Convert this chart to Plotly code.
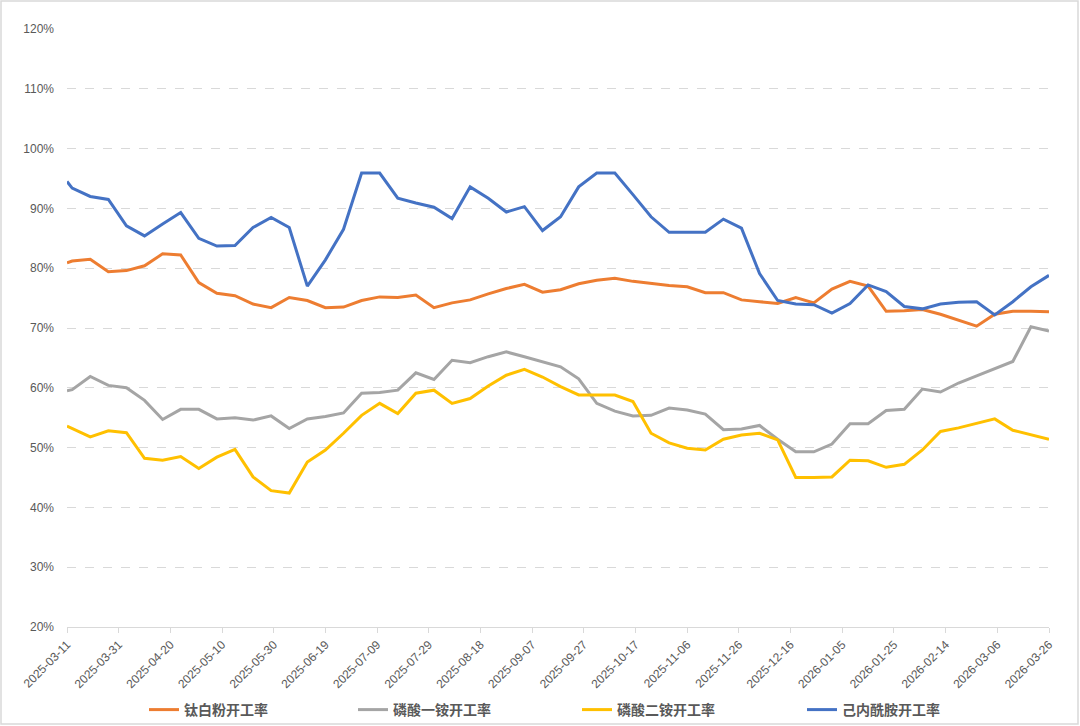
import plotly.graph_objects as go

dates = [
    "2025-03-11", "2025-03-13", "2025-03-20", "2025-03-27",
    "2025-04-03", "2025-04-10", "2025-04-17", "2025-04-24",
    "2025-05-01", "2025-05-08", "2025-05-15", "2025-05-22", "2025-05-29",
    "2025-06-05", "2025-06-12", "2025-06-19", "2025-06-26",
    "2025-07-03", "2025-07-10", "2025-07-17", "2025-07-24", "2025-07-31",
    "2025-08-07", "2025-08-14", "2025-08-21", "2025-08-28",
    "2025-09-04", "2025-09-11", "2025-09-18", "2025-09-25",
    "2025-10-02", "2025-10-09", "2025-10-16", "2025-10-23", "2025-10-30",
    "2025-11-06", "2025-11-13", "2025-11-20", "2025-11-27",
    "2025-12-04", "2025-12-11", "2025-12-18", "2025-12-25",
    "2026-01-01", "2026-01-08", "2026-01-15", "2026-01-22", "2026-01-29",
    "2026-02-05", "2026-02-12", "2026-02-19", "2026-02-26",
    "2026-03-05", "2026-03-12", "2026-03-19", "2026-03-26",
]

titanium = [
    80.9, 81.2, 81.5, 79.4, 79.6, 80.4, 82.4, 82.2, 77.6, 75.8, 75.4, 74.0, 73.4,
    75.1, 74.6, 73.4, 73.5, 74.6, 75.2, 75.1, 75.5, 73.4, 74.2, 74.7, 75.7, 76.6,
    77.3, 76.0, 76.4, 77.4, 78.0, 78.3, 77.8, 77.4, 77.1, 76.9, 75.9, 75.9, 74.7,
    74.4, 74.1, 75.1, 74.2, 76.5, 77.8, 77.0, 72.8, 72.9, 73.1, 72.3, 71.3, 70.3,
    72.3, 72.8, 72.8, 72.7,
]

map_rate = [
    59.5, 59.7, 61.9, 60.4, 60.0, 57.9, 54.7, 56.4, 56.4, 54.8, 55.0, 54.6, 55.3,
    53.2, 54.8, 55.2, 55.8, 59.1, 59.2, 59.6, 62.5, 61.4, 64.6, 64.2, 65.2, 66.0,
    65.2, 64.4, 63.5, 61.5, 57.4, 56.1, 55.3, 55.4, 56.6, 56.3, 55.6, 53.0, 53.1,
    53.7, 51.4, 49.3, 49.3, 50.6, 54.0, 54.0, 56.2, 56.4, 59.8, 59.3, 60.8, 62.0,
    63.2, 64.4, 70.2, 69.5,
]

dap_rate = [
    53.6, 53.2, 51.8, 52.8, 52.5, 48.2, 47.9, 48.5, 46.5, 48.4, 49.7, 45.1, 42.8,
    42.4, 47.6, 49.6, 52.4, 55.4, 57.4, 55.7, 59.1, 59.6, 57.4, 58.2, 60.3, 62.1,
    63.1, 61.8, 60.2, 58.8, 58.8, 58.8, 57.7, 52.4, 50.8, 49.9, 49.6, 51.4, 52.1,
    52.4, 51.3, 45.0, 45.0, 45.1, 47.9, 47.8, 46.7, 47.2, 49.6, 52.7, 53.3, 54.0,
    54.8, 52.9, 52.1, 51.4,
]

caprolactam = [
    94.5, 93.4, 92.0, 91.5, 87.1, 85.4, 87.4, 89.3, 85.0, 83.7, 83.8, 86.8, 88.5,
    86.8, 77.0, 81.4, 86.5, 95.9, 95.9, 91.7, 90.9, 90.2, 88.3, 93.6, 91.7, 89.4,
    90.3, 86.3, 88.6, 93.6, 95.9, 95.9, 92.3, 88.6, 86.0, 86.0, 86.0, 88.2, 86.7,
    79.1, 74.6, 74.0, 73.9, 72.5, 74.1, 77.2, 76.1, 73.6, 73.2, 74.0, 74.3, 74.4,
    72.2, 74.4, 76.9, 78.8,
]

tick_dates = [
    "2025-03-11", "2025-03-31", "2025-04-20", "2025-05-10", "2025-05-30",
    "2025-06-19", "2025-07-09", "2025-07-29", "2025-08-18", "2025-09-07",
    "2025-09-27", "2025-10-17", "2025-11-06", "2025-11-26", "2025-12-16",
    "2026-01-05", "2026-01-25", "2026-02-14", "2026-03-06", "2026-03-26",
]

y_ticks = [20, 30, 40, 50, 60, 70, 80, 90, 100, 110, 120]
y_labels = [f"{v}%" for v in y_ticks]

series = [
    ("钛白粉开工率", titanium, "#ED7D31", "legend"),
    ("磷酸一铵开工率", map_rate, "#A5A5A5", "legend2"),
    ("磷酸二铵开工率", dap_rate, "#FFC000", "legend3"),
    ("己内酰胺开工率", caprolactam, "#4472C4", "legend4"),
]

fig = go.Figure()
for name, vals, color, leg in series:
    fig.add_trace(go.Scatter(
        x=dates, y=vals, name=name, mode="lines",
        line=dict(color=color, width=3),
        legend=leg, showlegend=True,
    ))

W, H = 1080, 726
L, R, T, B = 67, 31, 29, 99
pw, ph = W - L - R, H - T - B

def px_x(px):
    return (px - L) / pw

def px_y(py):
    return (H - B - py) / ph

leg_font = dict(family="Noto Sans CJK SC", size=14, color="#595959", weight="bold")
leg_common = dict(orientation="h", yanchor="middle", xanchor="left",
                  y=px_y(710), font=leg_font, bgcolor="rgba(0,0,0,0)",
                  itemwidth=30)

fig.update_layout(
    width=W, height=H,
    showlegend=True,
    margin=dict(l=L, r=R, t=T, b=B, autoexpand=False),
    paper_bgcolor="white", plot_bgcolor="white",
    font=dict(family="Liberation Sans, Arial, sans-serif", size=12, color="#595959"),
    legend=dict(x=px_x(144), **leg_common),
    legend2=dict(x=px_x(353), **leg_common),
    legend3=dict(x=px_x(577), **leg_common),
    legend4=dict(x=px_x(802), **leg_common),
    xaxis=dict(
        type="date",
        automargin=False,
        range=[tick_dates[0], tick_dates[-1]],
        tickmode="array", tickvals=tick_dates, ticktext=tick_dates,
        tickangle=-45,
        showgrid=False, zeroline=False,
        showline=True, linecolor="#D9D9D9", linewidth=1,
        ticks="outside", ticklen=5, tickcolor="#D9D9D9",
        tickfont=dict(size=12, color="#595959"),
    ),
    yaxis=dict(
        automargin=False,
        range=[20, 120],
        tickmode="array", tickvals=y_ticks, ticktext=y_labels,
        showgrid=True, gridcolor="#D9D9D9", gridwidth=1, griddash="dash",
        zeroline=False, showline=False,
        ticklabelstandoff=12,
        tickfont=dict(size=12, color="#595959"),
    ),
    shapes=[dict(
        type="rect", xref="paper", yref="paper",
        x0=px_x(1), x1=px_x(1078), y0=px_y(724), y1=px_y(1),
        line=dict(color="#D9D9D9", width=1.5), fillcolor="rgba(0,0,0,0)",
        layer="below",
    )],
)

fig.write_html(
    "out.html",
    config={"displayModeBar": False},
    post_script="document.body.style.margin='0';document.body.style.overflow='hidden';",
)
